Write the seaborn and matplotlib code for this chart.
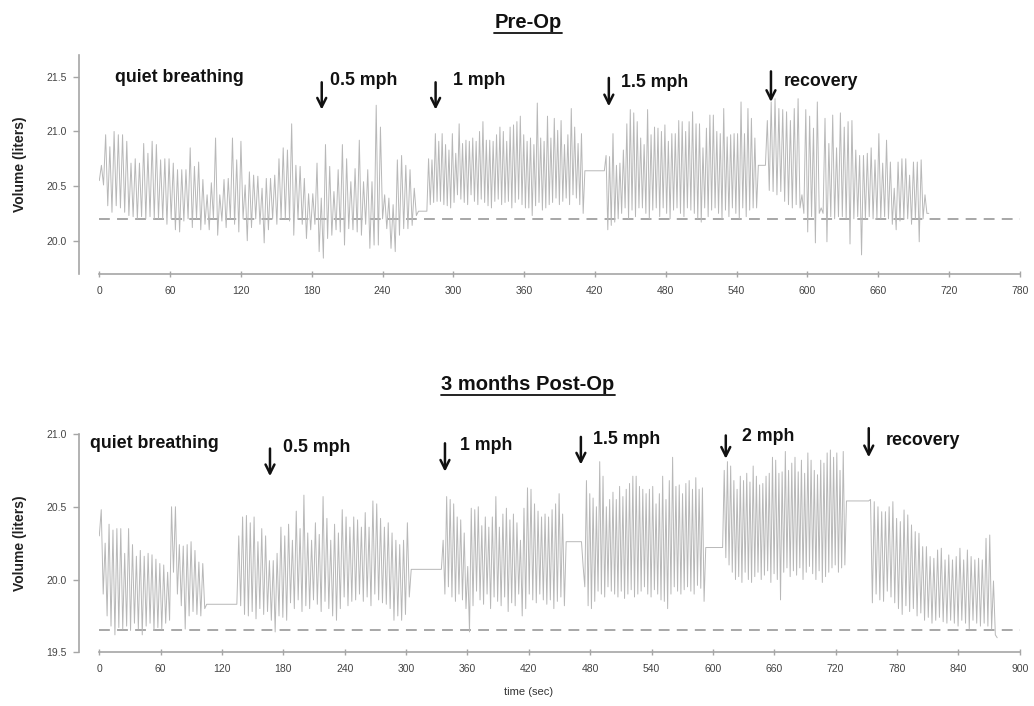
import numpy as np
import pandas as pd
import matplotlib
matplotlib.use("Agg")
import matplotlib.pyplot as plt
from matplotlib.lines import Line2D
import seaborn as sns

# ---------------- data: Pre-Op ----------------
pre_bounds = [(0, 270.5), (277.6, 411.5), (428, 558.5), (564.5, 703)]
pre_flats = [20.27, 20.64, 20.69]
pre_start, pre_end = 20.55, 20.25
pre_peaks_quiet = [20.69, 20.97, 20.86, 21.0, 20.97, 20.97, 20.91, 20.71, 20.75, 20.71,
                   20.89, 20.80, 20.91, 20.88, 20.74, 20.75, 20.75, 20.71, 20.65, 20.65,
                   20.65, 20.85, 20.68, 20.72, 20.56, 20.42, 20.53, 20.94, 20.42, 20.56,
                   20.57, 20.94, 20.74, 20.91, 20.51, 20.63, 20.60, 20.59, 20.48, 20.57,
                   20.57, 20.60, 20.75, 20.85, 20.83, 21.07, 20.69, 20.68, 20.57, 20.43,
                   20.43, 20.71,
                   20.39, 20.88, 20.68, 20.45, 20.65, 20.88, 20.75, 20.54, 20.66, 20.92,
                   20.54, 20.65, 20.54, 21.24, 21.04, 20.42, 20.39, 20.33, 20.74, 20.78,
                   20.69, 20.65, 20.48]
pre_troughs_quiet = [20.51, 20.32, 20.26, 20.32, 20.30, 20.26, 20.23, 20.22, 20.2, 20.22,
                     20.2, 20.22, 20.2, 20.2, 20.2,
                     20.15, 20.2, 20.1, 20.08, 20.18, 20.2, 20.12, 20.2, 20.1, 20.15,
                     20.1, 20.2, 20.05, 20.18, 20.12, 20.2, 20.15, 20.08, 20.2, 20.0,
                     20.12, 20.2, 20.15, 19.98, 20.1, 20.2, 20.15, 20.2, 20.2, 20.18,
                     20.05, 20.2, 20.15, 20.02, 20.1, 20.15, 19.9,
                     19.84, 20.02, 20.05, 20.1, 20.08, 19.96, 20.11, 20.1, 20.08, 20.05,
                     20.15, 19.93, 19.96, 19.96, 20.2, 20.11, 19.93, 19.9, 20.05, 20.11,
                     20.11, 20.14, 20.23]
pre_peaks_1mph = [20.75, 20.74, 20.98, 20.91, 20.98, 20.88, 20.83, 20.98, 20.80, 21.07,
                  20.89, 20.92, 20.91, 20.94, 20.91, 21.0, 21.09, 20.92, 20.92, 20.91,
                  20.97, 21.04, 21.0, 20.91, 21.04, 21.06, 21.09, 21.14, 20.97, 20.91,
                  20.94, 20.88, 21.26, 20.94, 20.91, 21.14, 20.94,
                  21.12, 21.01, 21.1, 20.88, 20.97, 21.21, 21.04, 20.89, 20.98]
pre_troughs_1mph = [20.33, 20.35, 20.36, 20.36, 20.33, 20.32, 20.30, 20.35, 20.42, 20.38,
                    20.35, 20.33, 20.42, 20.36, 20.33, 20.38, 20.35, 20.32, 20.30, 20.36,
                    20.38, 20.33, 20.35, 20.36, 20.30, 20.35, 20.38, 20.33, 20.30, 20.30,
                    20.23, 20.32, 20.35, 20.28, 20.3, 20.33, 20.35,
                    20.39, 20.33, 20.36, 20.39, 20.33, 20.42, 20.39, 20.33, 20.25]
pre_peaks_15mph = [20.78, 20.77, 20.98, 20.69, 20.71, 20.83, 21.07, 21.2, 21.17, 21.09,
                   20.94, 20.88, 21.2, 20.97, 21.04, 21.03, 21.0, 21.06, 20.91, 20.98,
                   20.98, 21.1, 21.09, 21.0, 21.09, 21.18, 21.07, 21.07, 20.85, 21.03,
                   21.15, 21.15, 21.0, 20.98, 21.21, 20.95, 20.97, 20.98, 20.98, 21.27,
                   20.98, 21.21, 21.12, 20.94]
pre_troughs_15mph = [20.1, 20.14, 20.17, 20.2, 20.25, 20.3, 20.2, 20.28, 20.22, 20.3,
                     20.3, 20.25, 20.2, 20.28, 20.3, 20.22, 20.3, 20.25, 20.2, 20.28,
                     20.3, 20.25, 20.22, 20.3, 20.28, 20.25, 20.2, 20.17, 20.3, 20.22,
                     20.28, 20.3, 20.25, 20.2, 20.28, 20.22, 20.3, 20.25, 20.2, 20.3,
                     20.22, 20.28, 20.3, 20.3]
pre_peaks_rec = [21.1, 21.27, 21.3, 21.21, 21.2, 21.18, 21.1, 21.21,
                 21.3, 20.42, 21.2, 21.14, 21.03, 21.27, 20.3, 21.12, 20.89, 21.15,
                 20.85, 21.17, 21.04, 21.09, 21.1, 20.83, 20.78, 20.78, 20.8, 20.85,
                 20.74, 20.98, 20.71, 20.92, 20.72, 20.48, 20.72, 20.75, 20.75, 20.6,
                 20.72, 20.72, 20.74, 20.42]
pre_troughs_rec = [20.46, 20.45, 20.42, 20.45, 20.36, 20.33, 20.3, 20.33,
                   20.3, 20.25, 20.08, 20.22, 19.98, 20.25, 20.25, 19.99, 20.22, 20.2,
                   20.22, 20.22, 20.2, 19.97, 20.2, 20.22, 19.87, 20.2, 20.22, 20.2,
                   20.2, 20.2, 20.22, 20.2, 20.15, 20.1, 20.18, 20.2, 20.2, 20.15,
                   20.2, 19.99, 20.2, 20.25]
pre_baseline = 20.2

# ---------------- data: 3 months Post-Op ----------------
post_bounds = [(0, 105), (134.5, 305), (334.5, 456.5), (471.5, 593), (609.5, 730.6), (752.3, 878)]
post_flats = [19.83, 20.07, 20.26, 20.22, 20.54]
post_start, post_end = 20.3, 19.6
post_peaks_quiet = [20.48, 20.25, 20.38, 20.34, 20.35, 20.35, 20.18, 20.35, 20.24, 20.16,
                    20.2, 20.16, 20.18, 20.17, 20.14, 20.11, 20.1, 20.05, 20.5, 20.5,
                    20.24, 20.23, 20.24, 20.26, 20.2, 20.12, 20.11]
post_troughs_quiet = [19.9, 19.75, 19.68, 19.62, 19.67, 19.66, 19.68, 19.65, 19.7, 19.66,
                      19.62, 19.68, 19.7, 19.65, 19.67, 19.66, 19.7, 19.72, 20.05, 19.9,
                      19.82, 19.66, 19.75, 19.78, 19.76, 19.75, 19.8]
post_peaks_05 = [20.3, 20.43, 20.44, 20.39, 20.43, 20.26, 20.35, 20.3, 20.13, 20.13,
                 20.18, 20.36, 20.3, 20.38, 20.27, 20.47, 20.35, 20.58, 20.32, 20.27,
                 20.39, 20.31, 20.57, 20.42, 20.27, 20.38, 20.32, 20.48, 20.43, 20.36,
                 20.43, 20.41, 20.36, 20.46, 20.36, 20.54, 20.52, 20.42, 20.36, 20.39,
                 20.32, 20.27, 20.24, 20.27, 20.39]
post_troughs_05 = [19.82, 19.76, 19.75, 19.78, 19.73, 19.8, 19.76, 19.78, 19.72, 19.64,
                   19.75, 19.74, 19.72, 19.84, 19.8, 19.86, 19.78, 19.82, 19.8, 19.86,
                   19.83, 19.78, 19.85, 19.8, 19.75, 19.72, 19.8, 19.88, 19.82, 19.85,
                   19.86, 19.9, 19.85, 19.88, 19.82, 19.9, 19.86, 19.84, 19.83, 19.8,
                   19.72, 19.75, 19.72, 19.76, 19.88]
post_peaks_1 = [20.27, 20.57, 20.55, 20.52, 20.43, 20.41, 20.32, 20.09, 20.49, 20.48,
                20.5, 20.37, 20.43, 20.36, 20.43, 20.57, 20.36, 20.45, 20.49, 20.41,
                20.45, 20.39,
                20.27, 20.49, 20.63, 20.62, 20.52, 20.47, 20.43, 20.45, 20.43, 20.48,
                20.52, 20.59, 20.45]
post_troughs_1 = [19.9, 19.95, 19.88, 19.85, 19.9, 19.86, 19.8, 19.64, 19.82, 19.92,
                  19.86, 19.83, 19.9, 19.8, 19.88, 19.85, 19.82, 19.88, 19.78, 19.84,
                  19.82, 19.9,
                  19.75, 19.8, 19.9, 19.86, 19.84, 19.9, 19.86, 19.83, 19.86, 19.8,
                  19.85, 19.88, 19.82]
post_peaks_15 = [20.09, 20.68, 20.59, 20.56, 20.5, 20.81, 20.71, 20.5, 20.55, 20.6,
                 20.55, 20.64, 20.57, 20.62, 20.66, 20.71, 20.71, 20.64, 20.62, 20.59,
                 20.62, 20.64, 20.52, 20.59, 20.71, 20.55, 20.68, 20.84, 20.64, 20.65,
                 20.59, 20.66, 20.68, 20.62, 20.70, 20.62, 20.63]
post_troughs_15 = [19.95, 19.82, 19.8, 19.85, 19.92, 19.9, 19.88, 19.95, 19.92, 19.9,
                   19.88, 19.92, 19.87, 19.9, 19.93, 19.88, 19.9, 19.92, 19.95, 19.9,
                   19.88, 19.93, 19.9, 19.86, 19.85, 19.8, 19.9, 19.95, 19.92, 19.9,
                   19.93, 19.95, 19.92, 19.9, 19.96, 19.94, 19.85]
post_peaks_2 = [20.75, 20.81, 20.78, 20.68, 20.62, 20.71, 20.68, 20.73, 20.67, 20.78,
                20.71, 20.65, 20.66, 20.71, 20.73, 20.84, 20.82, 20.73, 20.74, 20.88,
                20.75, 20.8, 20.84, 20.74, 20.82, 20.73, 20.87, 20.82, 20.75, 20.72,
                20.82, 20.8, 20.87, 20.89, 20.84, 20.87, 20.75, 20.88]
post_troughs_2 = [20.15, 20.1, 20.05, 20.0, 20.02, 19.98, 20.05, 20.0, 19.98, 20.02,
                  20.05, 20.0, 20.03, 20.06, 19.98, 20.04, 20.0, 19.86, 20.05, 20.08,
                  20.02, 20.06, 20.03, 20.08, 20.0, 20.05, 20.09, 20.04, 20.0, 20.06,
                  19.98, 20.02, 20.05, 20.08, 20.1, 20.05, 20.08, 20.1]
post_peaks_rec = [20.55, 20.535, 20.5, 20.466, 20.466, 20.5, 20.535, 20.42, 20.398, 20.478,
                  20.444, 20.375, 20.329, 20.318, 20.226, 20.226, 20.158, 20.146, 20.203, 20.215,
                  20.135, 20.169, 20.135, 20.158, 20.215, 20.135, 20.203, 20.158, 20.135, 20.146,
                  20.135, 20.283, 20.306, 19.99]
post_troughs_rec = [19.84, 19.9, 19.86, 19.85, 19.92, 19.88, 19.84, 19.8, 19.76, 19.82,
                    19.78, 19.8, 19.75, 19.77, 19.72, 19.74, 19.7, 19.72, 19.74, 19.71,
                    19.7, 19.72, 19.7, 19.68, 19.72, 19.7, 19.66, 19.72, 19.7, 19.68,
                    19.7, 19.68, 19.66, 19.62]
post_baseline = 19.65

pre_labels = ["quiet breathing", "0.5 mph", "1 mph", "1.5 mph", "recovery"]
post_labels = ["quiet breathing", "0.5 mph", "1 mph", "1.5 mph", "2 mph", "recovery"]


def build_trace(bounds, flats, start, end, peaks_list, troughs_list):
    ts, vs = [], []
    for i, ((t0, t1), pk, tr) in enumerate(zip(bounds, peaks_list, troughs_list)):
        prev = start if i == 0 else flats[i - 1]
        nxt = flats[i] if i < len(flats) else end
        vals = [prev] + [x for pair in zip(pk, tr) for x in pair] + [nxt]
        ts.extend(np.linspace(t0, t1, len(vals)))
        vs.extend(vals)
    return pd.DataFrame({"t": ts, "v": vs})


pre_df = build_trace(pre_bounds, pre_flats, pre_start, pre_end,
                     [pre_peaks_quiet, pre_peaks_1mph, pre_peaks_15mph, pre_peaks_rec],
                     [pre_troughs_quiet, pre_troughs_1mph, pre_troughs_15mph, pre_troughs_rec])
post_df = build_trace(post_bounds, post_flats, post_start, post_end,
                      [post_peaks_quiet, post_peaks_05, post_peaks_1, post_peaks_15, post_peaks_2, post_peaks_rec],
                      [post_troughs_quiet, post_troughs_05, post_troughs_1, post_troughs_15, post_troughs_2, post_troughs_rec])

# ---------------- style ----------------
sns.set_style("white")
plt.rcParams["font.family"] = ["Liberation Sans", "DejaVu Sans"]

W, H = 1034, 706
fig = plt.figure(figsize=(W / 100, H / 100), dpi=100)

ax1 = fig.add_axes([99.3 / W, 1 - 274 / H, (1019.7 - 99.3) / W, (274 - 55) / H])
ax2 = fig.add_axes([99.3 / W, 1 - 652.3 / H, (1019.7 - 99.3) / W, (652.3 - 434) / H])

trace_color = "#b8b8b8"
spine_color = "#a6a6a6"

for ax, df, base in [(ax1, pre_df, pre_baseline), (ax2, post_df, post_baseline)]:
    ax.axhline(base, color="#a0a0a0", lw=1.3, dashes=(6, 4), zorder=1)
    sns.lineplot(data=df, x="t", y="v", sort=False, estimator=None, ax=ax,
                 color=trace_color, lw=0.7, zorder=2)
    ax.set_xlabel("")
    ax.set_ylabel("Volume (liters)", fontsize=10, fontweight="bold", color="#222222")
    for s in ["top", "right"]:
        ax.spines[s].set_visible(False)
    ax.spines["left"].set_position(("outward", 14.6))
    for s in ["left", "bottom"]:
        ax.spines[s].set_color(spine_color)
        ax.spines[s].set_linewidth(1.2)
    ax.tick_params(axis="y", direction="out", length=4, width=1, color=spine_color,
                   labelsize=7.5, labelcolor="#444444", pad=5, left=True)
    ax.tick_params(axis="x", direction="inout", length=5, width=1, color=spine_color,
                   labelsize=7.5, labelcolor="#444444", pad=6, bottom=True)

ax1.set_xlim(0, 780)
ax1.set_ylim(19.695, 21.70)
ax1.set_xticks(np.arange(0, 781, 60))
ax1.set_yticks([20.0, 20.5, 21.0, 21.5])
ax1.set_yticklabels(["20.0", "20.5", "21.0", "21.5"])

ax2.set_xlim(0, 900)
ax2.set_ylim(19.5, 21.0)
ax2.set_xticks(np.arange(0, 901, 60))
ax2.set_yticks([19.5, 20.0, 20.5, 21.0])
ax2.set_yticklabels(["19.5", "20.0", "20.5", "21.0"])

ax1.yaxis.set_label_coords(-0.079, 0.5)
ax2.yaxis.set_label_coords(-0.079, 0.5)

# ---------------- annotations ----------------
txt_kw = dict(fontsize=12.8, fontweight="bold", color="#111111", va="center", ha="left", clip_on=False)
arr_kw = dict(arrowstyle="->", lw=1.8, color="#111111", mutation_scale=16, shrinkA=0, shrinkB=0)

pre_text_pos = [(13.3, 21.49), (195.5, 21.47), (299.7, 21.47), (441.9, 21.445), (580.3, 21.46)]
pre_arrows = [(188.5, 21.45, 21.2), (285, 21.45, 21.2), (431.8, 21.49, 21.23), (569.2, 21.55, 21.27)]
for lab, (x, y) in zip(pre_labels, pre_text_pos):
    ax1.text(x, y, lab, **txt_kw)
for x, y0, y1 in pre_arrows:
    ax1.annotate("", xy=(x, y1), xytext=(x, y0), arrowprops=arr_kw, annotation_clip=False)

post_text_pos = [(-9.1, 20.936), (179.9, 20.909), (352.6, 20.924), (483, 20.96), (628, 20.98), (769, 20.954)]
post_arrows = [(166.9, 20.90, 20.71), (338, 20.936, 20.741), (470.9, 20.98, 20.79),
               (612.6, 20.99, 20.83), (752.4, 21.04, 20.84)]
for lab, (x, y) in zip(post_labels, post_text_pos):
    ax2.text(x, y, lab, **txt_kw)
for x, y0, y1 in post_arrows:
    ax2.annotate("", xy=(x, y1), xytext=(x, y0), arrowprops=arr_kw, annotation_clip=False)

# titles (bold, underlined)
t1 = fig.text(528 / W, 1 - 22.5 / H, "Pre-Op", ha="center", va="center",
              fontsize=14.5, fontweight="bold", color="#111111")
t2 = fig.text(528 / W, 1 - 384 / H, "3 months Post-Op", ha="center", va="center",
              fontsize=14.5, fontweight="bold", color="#111111")
fig.text(529 / W, 1 - 692 / H, "time (sec)", ha="center", va="center", fontsize=8, color="#333333")

fig.canvas.draw()
renderer = fig.canvas.get_renderer()
inv = fig.transFigure.inverted()
for t in (t1, t2):
    bb = t.get_window_extent(renderer)
    (x0, y0), (x1, _) = inv.transform([(bb.x0, bb.y0 - 1), (bb.x1, bb.y0 - 1)])
    fig.add_artist(Line2D([x0, x1], [y0, y0], transform=fig.transFigure, color="#111111", lw=1.3))

fig.savefig("out.png", dpi=100)
